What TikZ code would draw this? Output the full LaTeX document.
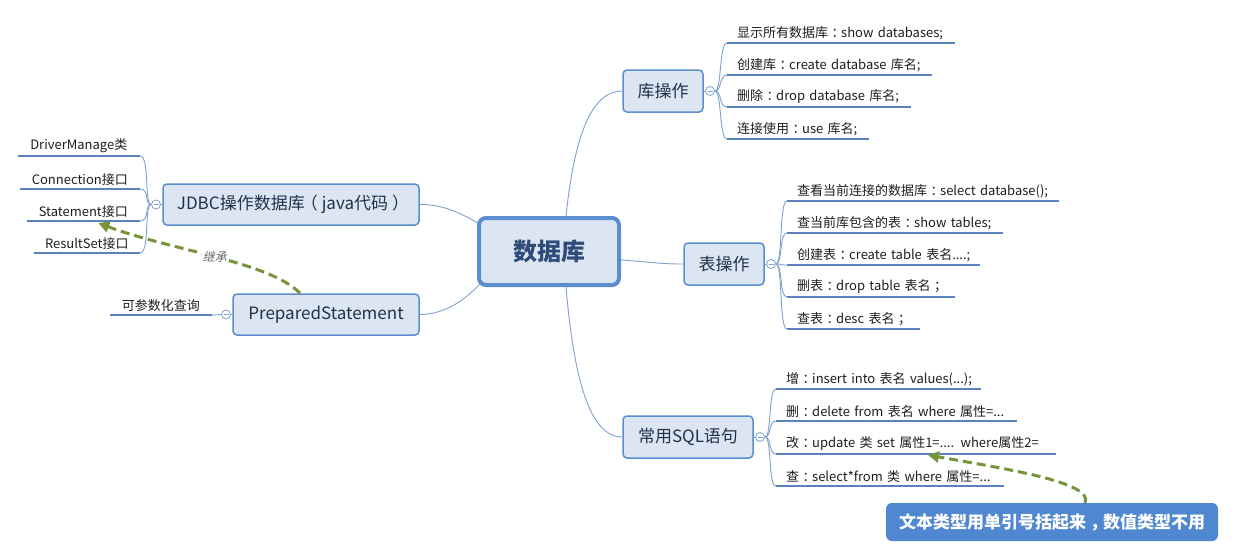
\documentclass[tikz,border=0pt]{standalone}
\usepackage{fontspec}
\newfontfamily\cjk{Noto Sans CJK SC}
\newfontfamily\cjkit{Noto Sans CJK SC}[FakeSlant=0.2]
\usetikzlibrary{arrows.meta,calc}
\newcommand\zc{\kern3.5pt：\kern-3.5pt}
\newcommand\zs{\kern3.5pt；\kern-3.5pt}
\newcommand\zl{\kern-4pt（\kern4pt}
\newcommand\zr{\kern4pt）\kern-4pt}
\newcommand\zk{\kern4pt，\kern-4pt}
\definecolor{boxfill}{HTML}{DCE6F2}
\definecolor{boxline}{HTML}{5B8ECF}
\definecolor{conn}{HTML}{7FA1CF}
\definecolor{ulcol}{HTML}{5A80C0}
\definecolor{dashgreen}{HTML}{77933C}
\definecolor{notefill}{HTML}{4F87D0}
\definecolor{txt}{HTML}{1E1E1E}
\definecolor{branchtxt}{HTML}{22304A}
\definecolor{roottxt}{HTML}{2F4B7A}
\definecolor{labgray}{HTML}{666666}
\begin{document}
\begin{tikzpicture}[x=1pt,y=-1pt,
  branch/.style={draw=boxline, fill=boxfill, line width=1.5pt, rounded corners=4pt,
    font=\cjk\fontsize{17}{20}\selectfont, text=branchtxt, inner sep=0pt},
  rootbox/.style={branch, line width=4pt, rounded corners=7pt,
    font=\cjk\bfseries\fontsize{24}{28}\selectfont, text=roottxt},
  leafR/.style={anchor=south west, inner xsep=10pt, inner ysep=3pt, align=left,
    font=\cjk\fontsize{13}{15}\selectfont, text=txt},
  leafL/.style={anchor=south east, inner xsep=10pt, inner ysep=3pt, align=center,
    font=\cjk\fontsize{13}{15}\selectfont, text=txt},
  ul/.style={draw=ulcol, line width=2.5pt},
  link/.style={draw=conn, line width=0.9pt},
  tog/.style={circle, draw=conn, fill=white, minimum size=9pt, inner sep=0pt, line width=0.8pt,
    path picture={\draw[conn, line width=0.7pt] ([xshift=-2.5pt]path picture bounding box.center) -- ([xshift=2.5pt]path picture bounding box.center);}},
  inh/.style={draw=dashgreen, line width=3pt, dash pattern=on 9pt off 5pt,
    -{Triangle[length=11pt,width=11pt]}},
  notebox/.style={fill=notefill, rounded corners=6pt, text=white,
    font=\cjk\bfseries\fontsize{17}{20}\selectfont, inner sep=0pt},
  lab/.style={font=\cjkit\fontsize{12}{14}\selectfont, text=labgray, fill=white, inner sep=1pt}
]
\fill[white] (0,0) rectangle (1235,558);
\useasboundingbox (0,0) rectangle (1235,558);

% branches
\node[rootbox, minimum width=140pt, minimum height=67pt] (root) at (549,251.5) {数据库};
\node[branch, minimum width=80pt, minimum height=42pt] (ku) at (663,91) {库操作};
\node[branch, minimum width=80pt, minimum height=42pt] (biao) at (724,264) {表操作};
\node[branch, minimum width=130pt, minimum height=42pt] (sql) at (688,437) {常用SQL语句};
\node[branch, minimum width=256pt, minimum height=41pt] (jdbc) at (291,204.5) {JDBC操作数据库\zl java代码\zr};
\node[branch, minimum width=186pt, minimum height=41pt] (prep) at (326,314.5) {PreparedStatement};

% main links
\draw[link] ($(root.north)+(17,0)$) .. controls (574,140) and (590,91) .. (ku.west);
\draw[link] ($(root.south)+(17,0)$) .. controls (574,380) and (590,437) .. (sql.west);
\draw[link] ($(root.east)+(0,8.5)$) .. controls (650,262) and (660,264) .. (biao.west);
\draw[link] ($(root.west)+(0,-29)$) .. controls (455,210) and (440,204.5) .. (jdbc.east);
\draw[link] ($(root.south west)+(3,-3)$) .. controls (460,305) and (440,314.5) .. (prep.east);

% toggles
\node[tog] (tk) at (710,91) {};
\node[tog] (tb) at (771,264) {};
\node[tog] (ts) at (760,437) {};
\node[tog] (tj) at (156,204.5) {};
\node[tog] (tp) at (226,314.5) {};
\draw[link] (ku.east) -- (tk.west);
\draw[link] (biao.east) -- (tb.west);
\draw[link] (sql.east) -- (ts.west);
\draw[link] (jdbc.west) -- (tj.east);
\draw[link] (prep.west) -- (tp.east);

% leaves of 库操作
\node[leafR, text width=208pt] (k1) at (727,43) {\mbox{显示所有数据库\zc show databases;}};
\node[leafR, text width=185pt] (k2) at (727,75) {\mbox{创建库\zc create database 库名;}};
\node[leafR, text width=164pt] (k3) at (727,107) {\mbox{删除\zc drop database 库名;}};
\node[leafR, text width=122pt] (k4) at (727,139) {\mbox{连接使用\zc use 库名;}};

% leaves of 表操作
\node[leafR, text width=252pt] (b1) at (787,201) {\mbox{查看当前连接的数据库\zc select database();}};
\node[leafR, text width=196pt] (b2) at (787,233) {\mbox{查当前库包含的表\zc show tables;}};
\node[leafR, text width=173pt] (b3) at (787,265) {\mbox{创建表\zc create table 表名....;}};
\node[leafR, text width=148pt] (b4) at (787,297) {\mbox{删表\zc drop table 表名\zs}};
\node[leafR, text width=113pt] (b5) at (787,329) {\mbox{查表\zc desc 表名\zs}};

% leaves of 常用SQL语句
\node[leafR, text width=185pt] (s1) at (776,389) {\mbox{增\zc insert into 表名 values(...);}};
\node[leafR, text width=221pt] (s2) at (776,421) {\mbox{删\zc delete from 表名 where 属性=...}};
\node[leafR, text width=260pt] (s3) at (776,454) {\mbox{改\zc update 类 set 属性1=.... where属性2=}};
\node[leafR, text width=208pt] (s4) at (776,486) {\mbox{查\zc select*from 类 where 属性=...}};

% leaves of JDBC
\node[leafL, text width=102pt] (j1) at (140,156) {\mbox{DriverManage类}};
\node[leafL, text width=100pt] (j2) at (140,189) {\mbox{Connection接口}};
\node[leafL, text width=93pt] (j3) at (140,221) {\mbox{Statement接口}};
\node[leafL, text width=86pt] (j4) at (140,253) {\mbox{ResultSet接口}};

% leaf of PreparedStatement
\node[leafL, text width=82pt] (p1) at (212,315) {\mbox{可参数化查询}};

% underlines
\foreach \n in {k1,k2,k3,k4,b1,b2,b3,b4,b5,s1,s2,s3,s4,j1,j2,j3,j4,p1}
  \draw[ul] (\n.south west) -- (\n.south east);

% braces
\foreach \n in {k1,k2,k3,k4}
  \draw[link] (tk.east) .. controls ($(tk.east)+(7,0)$) and ($(\n.south west)+(-8,0)$) .. (\n.south west);
\foreach \n in {b1,b2,b3,b4,b5}
  \draw[link] (tb.east) .. controls ($(tb.east)+(7,0)$) and ($(\n.south west)+(-8,0)$) .. (\n.south west);
\foreach \n in {s1,s2,s3,s4}
  \draw[link] (ts.east) .. controls ($(ts.east)+(7,0)$) and ($(\n.south west)+(-8,0)$) .. (\n.south west);
\foreach \n in {j1,j2,j3,j4}
  \draw[link] (tj.west) .. controls ($(tj.west)+(-7,0)$) and ($(\n.south east)+(10,0)$) .. (\n.south east);
\draw[link] (p1.south east) -- (tp.west);

% note
\node[notebox, minimum width=332pt, minimum height=38pt] (note) at (1052,522) {文本类型用单引号括起来\zk 数值类型不用};

% inheritance arrows
\draw[inh] ($(prep.north)+(-26,0)$) .. controls (270,262) and (170,250) .. node[lab, pos=0.5] {继承} ($(j3.south)+(15,2)$);
\draw[inh] ($(note.north)+(33,0)$) .. controls (1095,482) and (1000,468) .. ($(s3.south west)+(152,1)$);
\end{tikzpicture}
\end{document}
